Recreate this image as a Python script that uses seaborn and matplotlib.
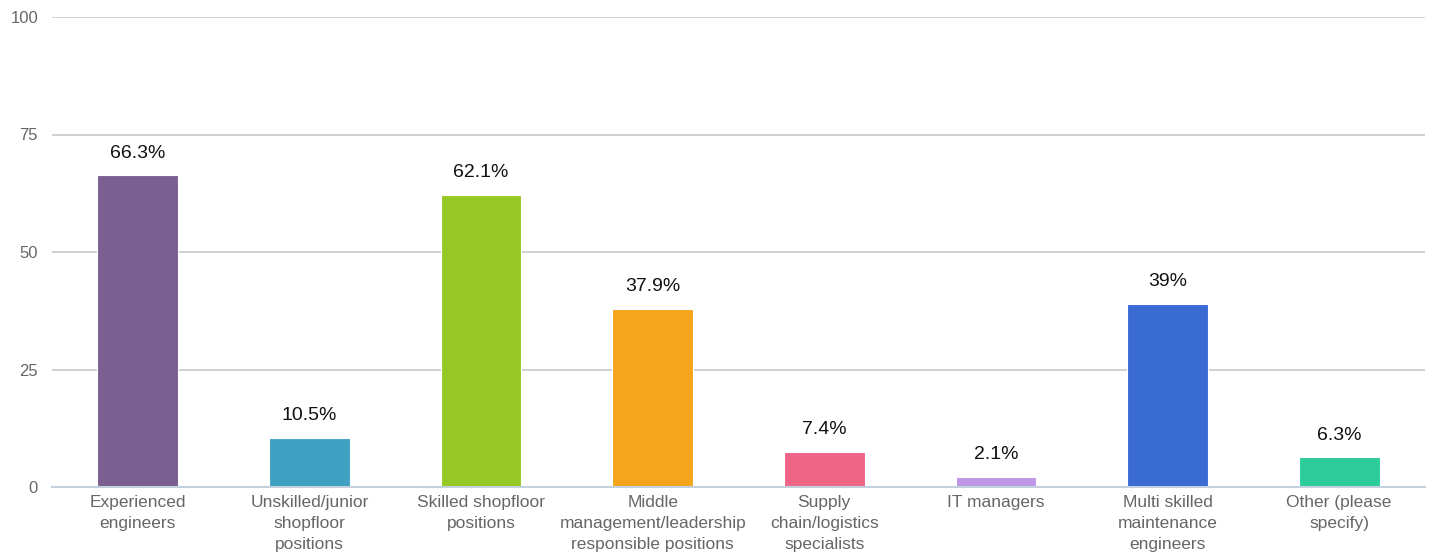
import matplotlib
matplotlib.use("Agg")
import matplotlib.pyplot as plt
import seaborn as sns
import pandas as pd
import numpy as np

categories = [
    "Experienced\nengineers",
    "Unskilled/junior\nshopfloor\npositions",
    "Skilled shopfloor\npositions",
    "Middle\nmanagement/leadership\nresponsible positions",
    "Supply\nchain/logistics\nspecialists",
    "IT managers",
    "Multi skilled\nmaintenance\nengineers",
    "Other (please\nspecify)",
]
values = [66.3, 10.5, 62.1, 37.9, 7.4, 2.1, 39.0, 6.3]
value_labels = ["66.3%", "10.5%", "62.1%", "37.9%", "7.4%", "2.1%", "39%", "6.3%"]
colors = ["#7b5f91", "#3fa1c1", "#96c823", "#f4a51b", "#ef6585", "#c097e6", "#3a6bd3", "#2ecc9a"]
y_ticks = [0, 25, 50, 75, 100]

sns.set_theme(style="white")
plt.rcParams["font.family"] = ["Liberation Sans", "DejaVu Sans"]

df = pd.DataFrame({"category": categories, "value": values})

fig = plt.figure(figsize=(14.33, 5.58), dpi=100)
ax = fig.add_axes([52 / 1433, 1 - 487 / 558, (1425 - 52) / 1433, (487 - 17) / 558])

sns.barplot(data=df, x="category", y="value", hue="category", palette=colors,
            legend=False, width=0.47, ax=ax, edgecolor="white", linewidth=0.8,
            saturation=1)

ax.set_ylim(0, 100)
ax.set_xlim(-0.5, len(categories) - 0.5)
ax.set_yticks(y_ticks)
ax.yaxis.grid(True, color="#c8c8c8", linewidth=1.2)
ax.set_axisbelow(True)
for side in ["top", "right", "left"]:
    ax.spines[side].set_visible(False)
ax.spines["bottom"].set_color("#c3d1df")
ax.spines["bottom"].set_linewidth(1.5)

ax.set_xlabel("")
ax.set_ylabel("")
ax.tick_params(axis="y", length=0, pad=10, labelsize=12, labelcolor="#666666")
ax.tick_params(axis="x", which="major", length=0, pad=6, labelsize=12.5, labelcolor="#666666")
ax.set_xticks(np.arange(len(categories)))
ax.set_xticklabels(categories, linespacing=1.5)
ax.set_xticks(np.arange(-0.5, len(categories)), minor=True)
ax.tick_params(axis="x", which="minor", length=6, width=1.5, color="#c3d1df", direction="out")

for i, (v, lab) in enumerate(zip(values, value_labels)):
    ax.annotate(lab, (i, v), xytext=(0, 10), textcoords="offset points",
                ha="center", va="bottom", fontsize=14, color="#111111")

fig.savefig("out.png", dpi=100)
